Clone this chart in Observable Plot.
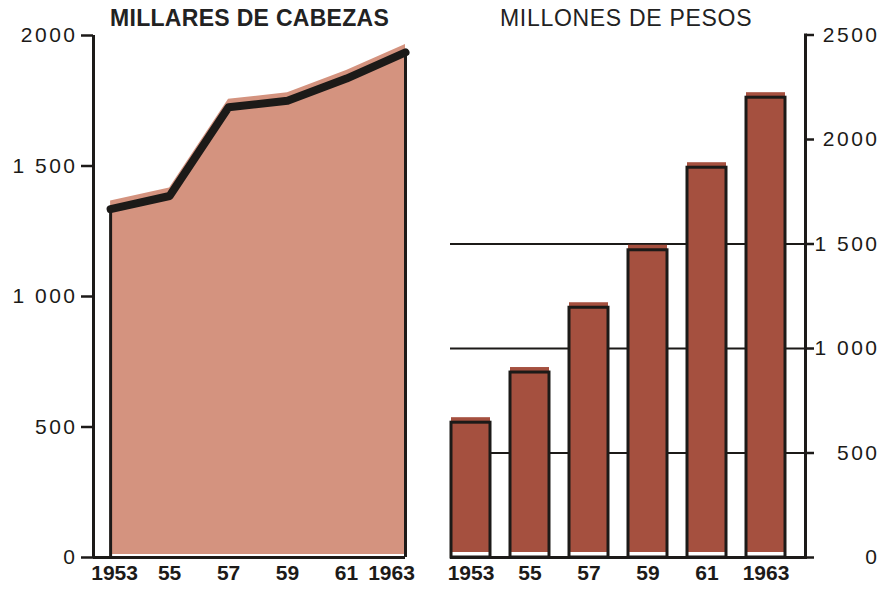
<!DOCTYPE html>
<html>
<head>
<meta charset="utf-8">
<script src="https://cdn.jsdelivr.net/npm/d3@7"></script>
<script src="https://cdn.jsdelivr.net/npm/@observablehq/plot@0.6"></script>
<style>
  body { margin: 0; background: #fff; }
  #wrap { position: relative; width: 883px; height: 590px; overflow: hidden; font-family: "Liberation Sans", Arial, sans-serif; color: #1f1f1f; }
  .title { position: absolute; top: 7px; line-height: 23px; font-size: 23px; white-space: nowrap; color: #222; }
  #t1 { left: 110px; font-weight: bold; letter-spacing: 0.3px; }
  #t2 { left: 500px; letter-spacing: 0.7px; }
  #left { position: absolute; left: 0; top: 0; }
  #right { position: absolute; left: 430px; top: 0; }
  svg g[aria-label="y-axis tick label"] text { letter-spacing: 2.5px; }
</style>
</head>
<body>
<div id="wrap">
  <div class="title" id="t1">MILLARES DE CABEZAS</div>
  <div class="title" id="t2">MILLONES DE PESOS</div>
  <div id="left"></div>
  <div id="right"></div>
</div>
<script>
// ---- data ----
const years = [1953, 1955, 1957, 1959, 1961, 1963];
const yearLabels = ["1953", "55", "57", "59", "61", "1963"];
const cattle = [1335, 1385, 1725, 1750, 1835, 1935];      // millares de cabezas
const pesos = [645, 885, 1195, 1470, 1865, 2200];         // millones de pesos
const leftTicks = [0, 500, 1000, 1500, 2000];
const leftTickLabels = ["0", "500", "1 000", "1 500", "2000"];
const rightTicks = [0, 500, 1000, 1500, 2000, 2500];
const rightTickLabels = ["0", "500", "1 000", "1 500", "2000", "2500"];
const gridValues = [500, 1000, 1500];

const ink = "#1c1a18";
const cattleData = years.map((y, i) => ({year: y, value: cattle[i], label: yearLabels[i]}));
const pesosData = years.map((y, i) => ({label: yearLabels[i], value: pesos[i]}));
const yearLabelMap = new Map(years.map((y, i) => [y, yearLabels[i]]));
const leftFmt = new Map(leftTicks.map((t, i) => [t, leftTickLabels[i]]));
const rightFmt = new Map(rightTicks.map((t, i) => [t, rightTickLabels[i]]));

const xDomainLeft = [1952.42, 1963];
const font = "'Liberation Sans', Arial, sans-serif";
const xAxisOpts = {tickFormat: d => yearLabelMap.get(d), tickSize: 0, tickPadding: 8, fontSize: 21, fontWeight: "bold", fill: ink, label: null};

const left = Plot.plot({
  width: 430, height: 590,
  marginLeft: 93, marginRight: 25, marginTop: 35, marginBottom: 33,
  x: {type: "linear", domain: xDomainLeft, label: null},
  y: {domain: [0, 2000], label: null},
  style: {fontFamily: font, background: "transparent", overflow: "visible", color: ink},
  marks: [
    Plot.areaY(cattleData, {x: "year", y: "value", fill: "#d4937f", dy: -3}),
    Plot.areaY(cattleData, {x: "year", y: "value", fill: "#d4937f", dy: -8}),
    Plot.line(cattleData, {x: "year", y: "value", stroke: ink, strokeWidth: 8, strokeLinejoin: "round"}),
    Plot.ruleX([cattleData[0], cattleData[cattleData.length - 1]], {x: "year", y1: 0, y2: "value", stroke: ink, strokeWidth: 3}),
    Plot.ruleY([0], {stroke: ink, strokeWidth: 3}),
    Plot.ruleX([xDomainLeft[0]], {y1: 0, y2: 2000, stroke: ink, strokeWidth: 3}),
    Plot.axisY(leftTicks, {tickFormat: d => leftFmt.get(d), tickSize: 12, tickPadding: 4, fontSize: 21, stroke: ink, strokeWidth: 2.5, fill: ink, label: null}),
    Plot.axisX([1953], {...xAxisOpts, dx: 4}),
    Plot.axisX([1955, 1957, 1959, 1961], xAxisOpts),
    Plot.axisX([1963], {...xAxisOpts, dx: -14})
  ]
});
document.getElementById("left").append(left);

const right = Plot.plot({
  width: 453, height: 590,
  marginLeft: 20, marginRight: 78, marginTop: 34.5, marginBottom: 33,
  x: {type: "band", domain: yearLabels, range: [20, 356.5], paddingInner: 0.345, paddingOuter: 0, label: null},
  y: {domain: [0, 2500], label: null},
  style: {fontFamily: font, background: "transparent", overflow: "visible", color: ink},
  marks: [
    Plot.ruleY(gridValues, {stroke: ink, strokeWidth: 2}),
    Plot.barY(pesosData, {x: "label", y: "value", fill: "#a5503f", dy: -5}),
    Plot.barY(pesosData, {x: "label", y: "value", fill: "none", stroke: ink, strokeWidth: 3}),
    Plot.ruleY([0], {stroke: ink, strokeWidth: 3}),
    Plot.frame({anchor: "right", stroke: ink, strokeWidth: 3}),
    Plot.axisY(rightTicks, {anchor: "right", tickFormat: d => rightFmt.get(d), tickSize: 8, tickPadding: 66, textAnchor: "end", fontSize: 21, stroke: ink, strokeWidth: 2.5, fill: ink, label: null}),
    Plot.axisX({tickSize: 0, tickPadding: 8, fontSize: 21, fontWeight: "bold", fill: ink, label: null})
  ]
});
document.getElementById("right").append(right);
</script>
</body>
</html>
